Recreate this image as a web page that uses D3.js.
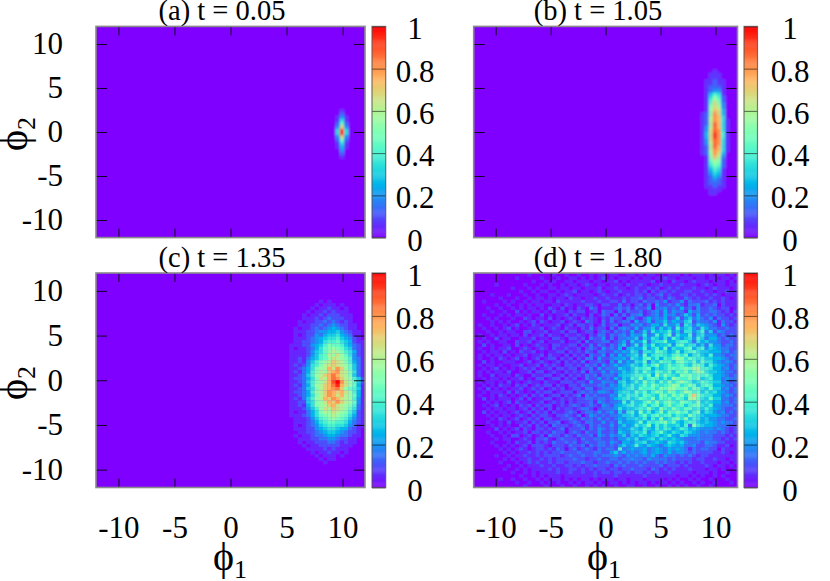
<!DOCTYPE html>
<html><head><meta charset="utf-8">
<script src="https://cdn.jsdelivr.net/npm/d3@7"></script>
<style>html,body{margin:0;padding:0;background:#fff}svg{display:block}text{font-family:"Liberation Serif",serif;fill:#000}</style>
</head><body><svg id="c" width="830" height="581"></svg>
<script>
// Cell values are base-36 digits, read by eye; each panel has its own divisor (levels).
const titles = ["(a) t = 0.05", "(b) t = 1.05", "(c) t = 1.35", "(d) t = 1.80"];
const axisTicks = [-10, -5, 0, 5, 10];
const barTicks = [0, 0.2, 0.4, 0.6, 0.8, 1];
const barLabels = ["0", "0.2", "0.4", "0.6", "0.8", "1"];

const startA = [56, 25];
const valuesA = [
"00100","00200","01310","01510","02720","03a30","05e50","05e50","03a30","02720","01510","01410","00300","00200","00100"];

const startB = [54, 13];
const valuesB = [
"00001000","00011100","00011100","00112110","00112110","00122210","00123310","00146510","00158620","00169720",
"0017a830","0018a930","0018ba40","0128ca40","0129cb50","0129cb51","0129db51","0139db51","013adc51","014aec61",
"014aec61","013adc51","0139dc51","0129db51","0129cb51","0128ca40","0018b930","00179820","00168720","00157620",
"00146510","00135410","00124310","00123210","00122210","00112110","00011100","00011000"];

const startC = [44, 8];
const valuesC = [
"00000000010100000000","00000000101110100000","00000001011211010000","00000010112121110000","00000101121222111000",
"00000111212322211000","00001011223232121000","00001112232343221100","00010112323454321100","00011122344556432110",
"00010122435667543110","00011123456778654210","00011223457889765211","00111224568a99865321","00101123579aba976321",
"00111124679bcba87521","00111124689cbdb97421","00112135689bdcba8431","001121468abcedca8531","001212478acdedcb9631",
"00112357abcfdgeb9631","00121358acbefgdca731","00112368bcefhfdca631","00122357adcfhgecb862","00112368abdfikgdb962",
"00121358bcefhjfdb951","00112367acefgheb9861","00122358bcegfefdb851","00112357acegfdfcb951","00121368bcfegfdcb841",
"00112267abdfegecb941","00112157abcefdcba831","001112468bdcedcb9731","001011357acbdcba8621","0011123579abcba97521",
"00011124689aba986421","00011123578998875321","00010123467887764311","00011122456776553210","00001122345665432210",
"00010112334554332110","00001112233443221100","00001011222332121100","00000101122222111000","00000011112121110000",
"00000001011211010000","00000000101110100000","00000000010110000000","00000000001000000000"];

const startD = [0, 0];
const valuesD = [
"00000000 00000100 00010010 01001011 01100110 10110101 11010111 01011010",
"00000000 00100000 10001001 10101012 01011101 01101121 10111011 01101101",
"00000000 00000010 01010011 01110110 11201011 11120110 21101211 10111010",
"00000100 00001000 10100101 10121011 01110211 21011211 11211101 21011011",
"00000000 01000101 00110110 11011120 11211012 11212012 12111211 01211101",
"00000000 00010010 11001011 20110121 01121112 12021221 21122112 11011211",
"00001000 10001001 00110121 01111012 11201212 21212312 11221211 21210111",
"00000010 00100101 10101102 11011211 21112122 31221213 21132121 12112101",
"00100001 01001011 01102111 11211121 12213122 13223241 22413222 31212111",
"00000100 10010101 10011021 01122102 21131202 31304223 24213341 22302111",
"00010010 01010110 10210201 02103201 11232313 22403342 32523142 23212201",
"00001001 00201011 01021102 12201203 22031322 31234252 43315342 23321202",
"00100010 10110100 20101120 21102013 20313133 41234253 42364252 32322121",
"00010100 01002101 10201012 10212102 13220342 13534352 36246353 24132212",
"00001010 10010120 21011201 21032103 13123315 23524463 54367243 32413221",
"01001001 01201021 01112012 02212013 12302243 42355374 46276365 43214212",
"00100101 20100111 20121021 10213122 03134325 24463646 38467437 53322322",
"00010010 11002201 12011202 20122023 21323252 36375668 46377468 36243222",
"01001011 01102011 20211021 12102133 13234254 47348579 37558367 44423232",
"00100201 10011120 11022102 21203224 13133446 26476474 86467486 35532322",
"01010011 00211201 20111201 12031223 31235264 58367795 57886375 64432232",
"00201001 10201012 11022112 20213132 13246247 37585668 48967746 37442332",
"01001011 20012101 21021121 12023214 23251565 58468594 76689578 46543322",
"00101102 01021120 10112202 12132133 22435476 37769875 69578976 65553423",
"01010110 10112011 20211020 21203224 14253567 49578876 89795786 58443233",
"01001021 01201012 01220212 02133142 23445376 58968587 9ba79878 66554323",
"00201001 11001201 21012021 21302232 14263547 69476988 69a87969 77543432",
"01011010 01120112 02121022 12132314 23534576 5868a679 78976998 58654323",
"00101201 01012120 11202212 20223142 33365468 78957679 989a9bc8 87553423",
"01010110 20011202 20121021 21303224 24346568 69769879 698a79ba 76654332",
"01002011 10210021 12201202 12132313 33256678 8795b7a8 76a9a898 97554323",
"00101101 01120102 20122021 20132242 32536587 a6898686 b988a8a6 78553433",
"01011010 20101211 02110222 12214224 33267568 6a78697a 79b98679 87663423",
"00101021 10212012 12202102 21322233 24357686 797a8789 ba78a968 98554332",
"01020101 01120121 20121201 22133123 33456786 98897a9b b99a7a97 69663423",
"00101110 20210102 12201222 02323244 32467769 7968a97a 978ba896 86754323",
"01001021 01012021 20122021 23032322 24376878 69876a97 a8a7aea8 77553432",
"00201011 10120201 12201212 12233233 23567867 987a6989 7986bc97 69663323",
"00010101 20211011 20121202 12223143 23348586 68a7a79a 87a987a6 76553423",
"00101201 01021202 12201212 32123214 32456786 7968968a 789689a7 68443332",
"00010110 11012021 20202122 12332023 33475667 87a76a87 a8799786 86543223",
"00201011 01201202 12021123 20233242 34263785 a6857a69 8a8968a5 76434232",
"00010101 10121021 22102232 13024323 23346675 79689789 6876a876 55543322",
"00001021 01201212 02211223 21323242 32354667 68586a67 9a7a6875 64433223",
"00010010 20112021 20223012 32133224 23264556 958789a7 96578865 65434332",
"00001010 10021202 12032221 23213232 24246458 67a58686 67583a76 55433322",
"00000201 01202102 21212302 22313243 23254576 58658687 56875654 44343212",
"00010010 10112022 12132202 32132242 23265467 68467965 76576543 43323212",
"00001001 02201201 20322132 13223143 24346365 76567568 54764443 33222121",
"00000101 10012102 23102322 21322332 23244657 45675765 65433343 33221212",
"00001000 10211202 12132232 31232233 24325546 67456547 65643332 43322111",
"00000101 01012022 21022213 22313233 23246458 54654356 54533422 33211201",
"00000010 10121012 21213202 31232132 33283454 45345435 45431323 32202111",
"00000001 01011212 12122322 23222332 24635343 45345435 34432322 22112101",
"00000100 10112112 12222123 22322323 33432434 34353243 32323212 21111111",
"00000001 01011211 21212222 32212232 23323343 32433332 32222122 11211011",
"00000010 00101212 11212212 22322122 32232323 23223232 21212112 11101101",
"00000000 10010111 21121122 12122322 21323222 32222312 22121111 21011010",
"00000001 00101011 11212112 21212122 12212232 22132121 21112111 01101001",
"00000000 01001010 11112112 11211212 21221212 21212112 11111011 10100100",
"00000000 00010010 10111011 11111211 11211111 12111111 10110101 00101000",
"00000010 01001001 01011010 10110101 11011011 10111101 01001010 01000100",
"00000000 00100100 10101001 01011010 01101010 11010110 10100101 00100010",
"00000000 00001000 01000100 10010101 00100110 01001001 01010010 01000000"];

const levelsA = 15, levelsB = 15, levelsC = 20, levelsD = 20;
const gridSize = 64;
const domain = [-12, 12];

const svg = d3.select("#c");
const defs = svg.append("defs");
const soft = defs.append("filter").attr("id","soft").attr("x","-5%").attr("y","-5%").attr("width","110%").attr("height","110%");
soft.append("feGaussianBlur").attr("stdDeviation",0.9);
const fine = defs.append("filter").attr("id","fine").attr("x","-5%").attr("y","-5%").attr("width","110%").attr("height","110%");
fine.append("feGaussianBlur").attr("stdDeviation",0.6);

// gnuplot palette rgbformulae 33,13,10
const palette = t => d3.rgb(255*Math.abs(2*t-0.5), 255*Math.sin(Math.PI*t), 255*Math.cos(Math.PI*t/2)).formatRgb();
const colour = d3.scaleSequential(palette).domain([0,1]).clamp(true);

const layout = [
 {L:96,   R:365,   T:26.4, B:237.6, barL:372, barR:385.7, labelX:415, titleX:222, titleY:20,  left:true,  bottom:false, values:valuesA, start:startA, levels:levelsA, filter:"soft"},
 {L:473.7,R:737.5, T:26.4, B:237.6, barL:744, barR:757.5, labelX:790, titleX:598, titleY:20,  left:false, bottom:false, values:valuesB, start:startB, levels:levelsB, filter:"soft"},
 {L:96,   R:365,   T:273,  B:487.5, barL:372, barR:385.7, labelX:415, titleX:222, titleY:267, left:true,  bottom:true,  values:valuesC, start:startC, levels:levelsC, filter:"fine"},
 {L:473.7,R:737.5, T:273,  B:487.5, barL:744, barR:757.5, labelX:790, titleX:598, titleY:267, left:false, bottom:true,  values:valuesD, start:startD, levels:levelsD, filter:"fine"}
];

layout.forEach((p,i) => {
  const x = d3.scaleLinear().domain(domain).range([p.L,p.R]);
  const y = d3.scaleLinear().domain(domain).range([p.B,p.T]);
  const cellX = d3.scaleLinear().domain([0,gridSize]).range(domain);
  const cellY = d3.scaleLinear().domain([0,gridSize]).range([domain[1],domain[0]]);
  const cells = [];
  p.values.forEach((row,r) => Array.from(row.replace(/ /g,"")).forEach((ch,c) => {
    const v = parseInt(ch,36)/p.levels;
    if (v>0) cells.push({c:c+p.start[0], r:r+p.start[1], v});
  }));
  defs.append("clipPath").attr("id","clip"+i).append("rect")
    .attr("x",p.L).attr("y",p.T).attr("width",p.R-p.L).attr("height",p.B-p.T);
  const holder = svg.append("g").attr("clip-path",`url(#clip${i})`);
  const heat = holder.append("g").attr("filter",`url(#${p.filter})`);
  heat.append("rect").attr("x",p.L-12).attr("y",p.T-12).attr("width",p.R-p.L+24).attr("height",p.B-p.T+24).attr("fill",colour(0));
  heat.selectAll("rect.cell").data(cells).join("rect").attr("class","cell")
    .attr("x",d=>x(cellX(d.c))).attr("y",d=>y(cellY(d.r)))
    .attr("width",d=>x(cellX(d.c+1))-x(cellX(d.c))+0.3)
    .attr("height",d=>y(cellY(d.r+1))-y(cellY(d.r))+0.3)
    .attr("fill",d=>colour(d.v));

  // inward ticks on all four sides
  const tickStyle = g => { g.select(".domain").remove(); g.selectAll("line").attr("stroke","#000").attr("stroke-width",1).attr("stroke-opacity",0.85); g.selectAll("text").remove(); };
  svg.append("g").attr("transform",`translate(0,${p.B})`).call(d3.axisBottom(x).tickValues(axisTicks).tickSize(-9)).call(tickStyle);
  svg.append("g").attr("transform",`translate(0,${p.T})`).call(d3.axisTop(x).tickValues(axisTicks).tickSize(-9)).call(tickStyle);
  svg.append("g").attr("transform",`translate(${p.L},0)`).call(d3.axisLeft(y).tickValues(axisTicks).tickSize(-11)).call(tickStyle);
  svg.append("g").attr("transform",`translate(${p.R},0)`).call(d3.axisRight(y).tickValues(axisTicks).tickSize(-11)).call(tickStyle);
  svg.append("rect").attr("x",p.L).attr("y",p.T).attr("width",p.R-p.L).attr("height",p.B-p.T)
    .attr("fill","none").attr("stroke","#8a8a8a").attr("stroke-width",1.6);

  const labelStyle = g => { g.select(".domain").remove(); g.selectAll("line").remove(); g.selectAll("text").attr("font-size",31).style("font-family",'"Liberation Serif",serif'); };
  const fmt = d => String(d);
  if (p.left) svg.append("g").attr("transform",`translate(${p.L},0)`).call(d3.axisLeft(y).tickValues(axisTicks).tickFormat(fmt).tickSize(0).tickPadding(33)).call(labelStyle);
  if (p.bottom) svg.append("g").attr("transform",`translate(0,${p.B})`).call(d3.axisBottom(x).tickValues(axisTicks).tickFormat(fmt).tickSize(0).tickPadding(28)).call(labelStyle);

  // title
  svg.append("text").attr("x",p.titleX).attr("y",p.titleY).attr("text-anchor","middle").attr("font-size",28.5).text(titles[i]);

  // colour bar
  const bar = d3.scaleLinear().domain([0,1]).range([p.B,p.T]);
  const steps = d3.range(0,1,0.005);
  svg.append("g").selectAll("rect").data(steps).join("rect")
    .attr("x",p.barL).attr("width",p.barR-p.barL)
    .attr("y",d=>bar(d+0.005)).attr("height",d=>bar(d)-bar(d+0.005)+0.4)
    .attr("fill",d=>colour(d));
  svg.append("g").attr("transform",`translate(${p.barL},0)`)
    .call(d3.axisRight(bar).tickValues(barTicks).tickSize(p.barR-p.barL))
    .call(g=>{g.select(".domain").remove(); g.selectAll("text").remove(); g.selectAll("line").attr("stroke","#000").attr("stroke-opacity",0.55);});
  svg.append("rect").attr("x",p.barL).attr("y",p.T).attr("width",p.barR-p.barL).attr("height",p.B-p.T)
    .attr("fill","none").attr("stroke","#555").attr("stroke-opacity",0.8).attr("stroke-width",1.2);
  svg.append("g").selectAll("text").data(barTicks).join("text")
    .attr("x",p.labelX).attr("y",d=>bar(d)+13).attr("text-anchor","middle").attr("font-size",31)
    .text((d,j)=>barLabels[j]);
});

// axis titles
const phi = (sel, sub) => { sel.append("tspan").text("\u03D5"); sel.append("tspan").attr("font-size",26).attr("dy",8).text(sub); };
[[213,570],[587,570]].forEach(([a,b]) => svg.append("text").attr("x",a).attr("y",b).attr("font-size",40).call(phi,"1"));
[135,384].forEach(c => svg.append("text").attr("transform",`translate(27,${c+16}) rotate(-90)`).attr("font-size",40).call(phi,"2"));
</script></body></html>
